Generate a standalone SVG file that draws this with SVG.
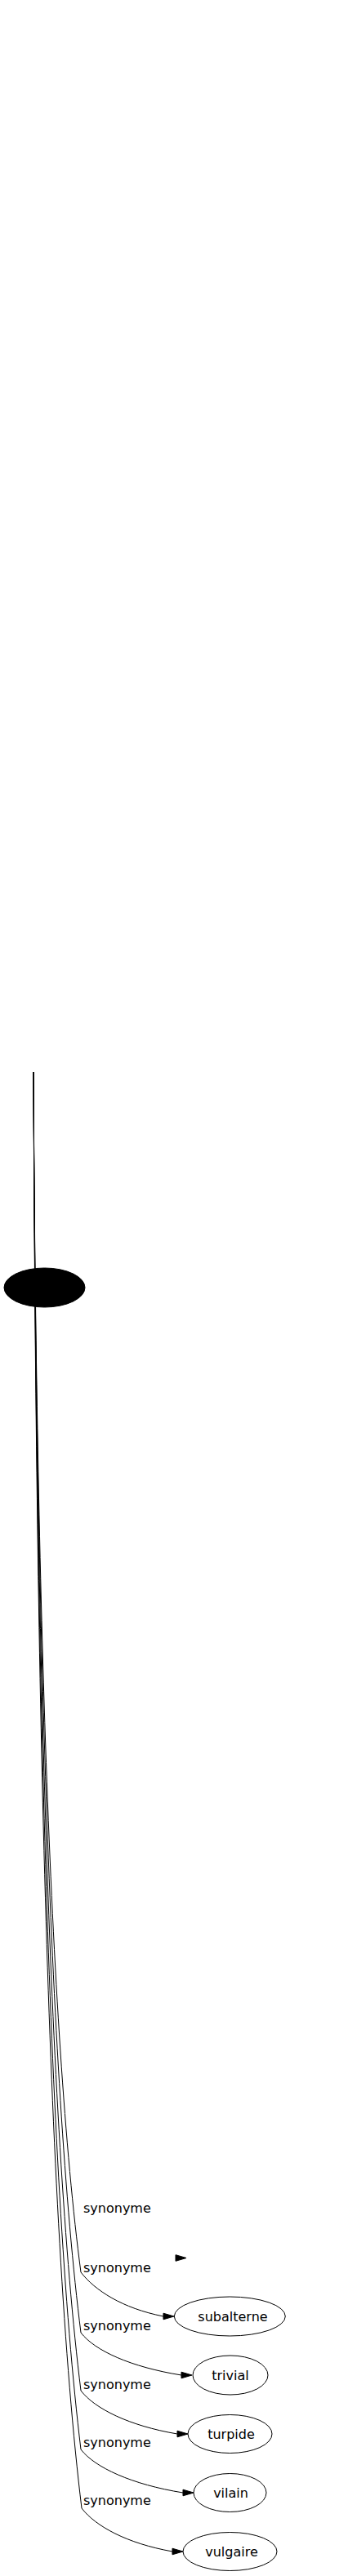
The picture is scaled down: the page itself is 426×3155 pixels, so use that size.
<svg xmlns="http://www.w3.org/2000/svg" width="426" height="3155" viewBox="0 0 426 3155">
<style>
.edge{fill:none;stroke:#000;stroke-width:1}
.head{fill:#000;stroke:#000;stroke-width:1}
.node ellipse{fill:none;stroke:#000;stroke-width:1}
.lbl{font-family:"DejaVu Sans",sans-serif;font-size:16px;fill:#000}
.ntxt{font-family:"DejaVu Sans",sans-serif;font-size:16px;fill:#000;text-anchor:middle}
</style>
<rect x="0" y="0" width="426" height="3155" fill="#fff"/>
<g id="connectors">
<path class="edge" d="M41,1313 C44,1901 60,2489 99,2783 C116,2805 149.5,2827 200,2837"/>
<polygon class="head" points="213,2837 200,2833.2 200,2840.8"/>
<path class="edge" d="M41,1313 C44,1931 60,2548 99,2857 C116,2879 160,2899 222,2909"/>
<polygon class="head" points="235,2909 222,2905.2 222,2912.8"/>
<path class="edge" d="M41,1313 C44,1959 59,2605 99,2928 C116,2950 158,2971 217,2981"/>
<polygon class="head" points="230,2981 217,2977.2 217,2984.8"/>
<path class="edge" d="M41,1313 C44,1988 58,2663 99,3000 C116,3022 161.5,3043 224,3053"/>
<polygon class="head" points="237,3053 224,3049.2 224,3056.8"/>
<path class="edge" d="M41,1313 C44,2017 57,2720 100,3072 C117,3094 155,3115 211,3125"/>
<polygon class="head" points="224,3125 211,3121.2 211,3128.8"/>
<polygon class="head" points="228,2765.5 215,2761.7 215,2769.3"/>
<text class="lbl" x="102" y="2710">synonyme</text>
<text class="lbl" x="102" y="2782.5">synonyme</text>
<text class="lbl" x="102" y="2854">synonyme</text>
<text class="lbl" x="102" y="2925.5">synonyme</text>
<text class="lbl" x="102" y="2997">synonyme</text>
<text class="lbl" x="102" y="3068">synonyme</text>
</g>
<g id="node-main">
<ellipse cx="54.5" cy="1577" rx="49.5" ry="24" fill="#000" stroke="#000"/>
</g>
<g id="node-subalterne" class="node">
<ellipse cx="281.3" cy="2837" rx="68" ry="24"/>
<text class="ntxt" x="285" y="2842.5">subalterne</text>
</g>
<g id="node-trivial" class="node">
<ellipse cx="282" cy="2909" rx="46" ry="24"/>
<text class="ntxt" x="282" y="2914.5">trivial</text>
</g>
<g id="node-turpide" class="node">
<ellipse cx="281.5" cy="2981" rx="51.5" ry="23.5"/>
<text class="ntxt" x="283" y="2986.5">turpide</text>
</g>
<g id="node-vilain" class="node">
<ellipse cx="281.5" cy="3053" rx="44.5" ry="23.5"/>
<text class="ntxt" x="282.5" y="3058.5">vilain</text>
</g>
<g id="node-vulgaire" class="node">
<ellipse cx="281.5" cy="3125" rx="57.5" ry="23.5"/>
<text class="ntxt" x="283.5" y="3130.5">vulgaire</text>
</g>
</svg>
